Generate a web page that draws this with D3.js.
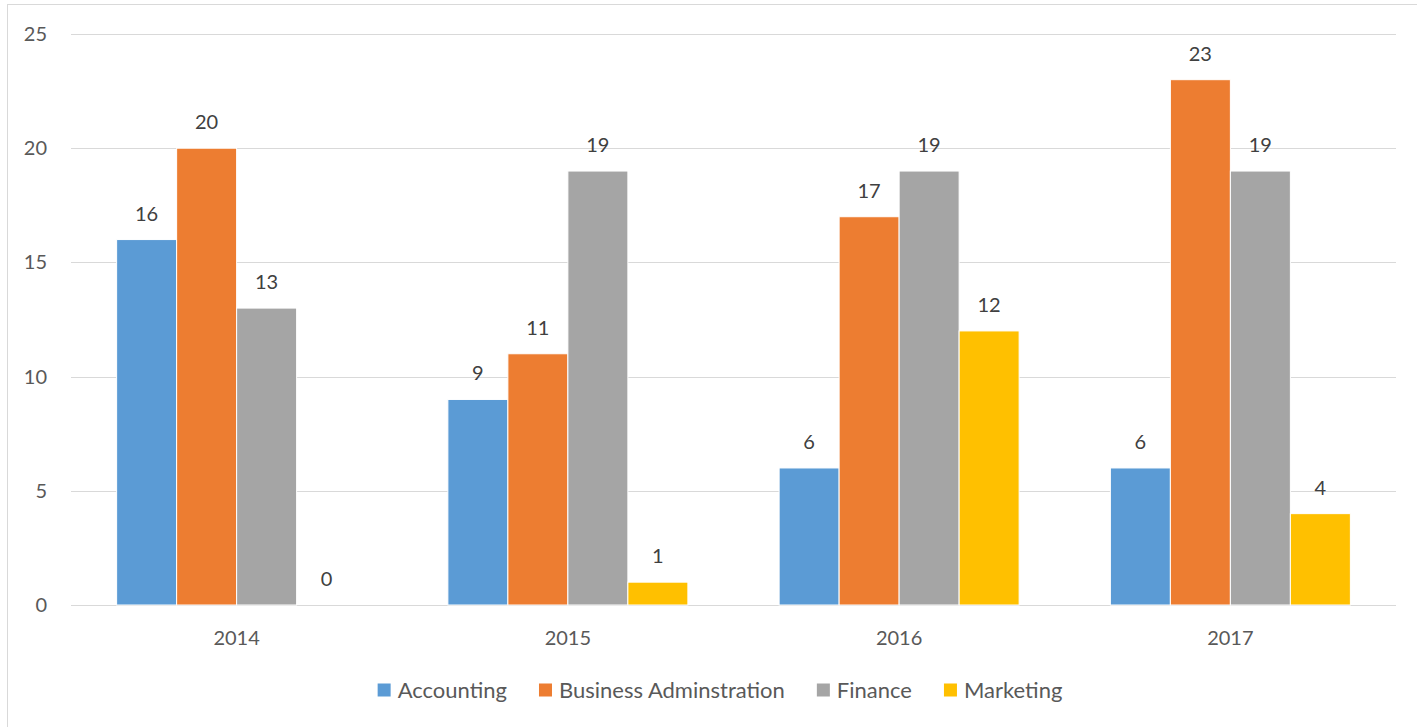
<!DOCTYPE html>
<html>
<head>
<meta charset="utf-8">
<script src="https://cdn.jsdelivr.net/npm/d3@7/dist/d3.min.js"></script>
<style>
  html, body { margin: 0; padding: 0; background: #fff; }
  svg { display: block; }
  text { font-family: Lato, "Open Sans", sans-serif; }
</style>
</head>
<body>
<svg id="chart" width="1417" height="727"></svg>
<script>
const years = ["2014", "2015", "2016", "2017"];
const seriesNames = ["Accounting", "Business Adminstration", "Finance", "Marketing"];
const accounting = [16, 9, 6, 6];
const businessAdmin = [20, 11, 17, 23];
const finance = [13, 19, 19, 19];
const marketing = [0, 1, 12, 4];
const yTicks = [0, 5, 10, 15, 20, 25];
const colors = ["#5B9BD5", "#ED7D31", "#A5A5A5", "#FFC000"];

const seriesValues = [accounting, businessAdmin, finance, marketing];

const svg = d3.select("#chart");
const W = 1417, H = 727;
const plot = { left: 71, right: 1396, top: 34, bottom: 605 };

// chart border
svg.append("rect")
  .attr("x", 7.5).attr("y", 4.5)
  .attr("width", W + 10).attr("height", H + 10)
  .attr("fill", "#fff").attr("stroke", "#d9d9d9").attr("stroke-width", 1);

const y = d3.scaleLinear().domain([0, 25]).range([plot.bottom, plot.top]);
const x0 = d3.scaleBand().domain(years).range([plot.left, plot.right]).paddingInner(0).paddingOuter(0);
const groupW = 240;
const x1 = d3.scaleBand().domain(seriesNames).range([0, groupW]).padding(0);

// gridlines
svg.append("g").selectAll("line").data(yTicks).join("line")
  .attr("x1", plot.left).attr("x2", plot.right)
  .attr("y1", d => Math.round(y(d)) + 0.5).attr("y2", d => Math.round(y(d)) + 0.5)
  .attr("stroke", "#d9d9d9").attr("stroke-width", 1);

// y tick labels
svg.append("g").selectAll("text").data(yTicks).join("text")
  .attr("x", 47).attr("y", d => y(d)).attr("dy", "0.35em")
  .attr("text-anchor", "end")
  .attr("font-size", 20).attr("fill", "#595959")
  .text(d => d);

// bars
const groups = svg.append("g").selectAll("g").data(years).join("g")
  .attr("transform", d => `translate(${x0(d) + (x0.bandwidth() - groupW) / 2},0)`);

groups.each(function(yr, i) {
  const g = d3.select(this);
  seriesNames.forEach((s, j) => {
    const v = seriesValues[j][i];
    if (v > 0) {
      g.append("rect")
        .attr("x", x1(s)).attr("y", y(v))
        .attr("width", x1.bandwidth()).attr("height", y(0) - y(v))
        .attr("fill", colors[j])
        .attr("stroke", "#fff").attr("stroke-width", 1);
    }
    g.append("text")
      .attr("x", x1(s) + x1.bandwidth() / 2)
      .attr("y", y(v) - 26).attr("dy", "0.35em")
      .attr("text-anchor", "middle")
      .attr("font-size", 20).attr("fill", "#404040")
      .text(v);
  });
});

// x axis labels
svg.append("g").selectAll("text").data(years).join("text")
  .attr("x", d => x0(d) + x0.bandwidth() / 2)
  .attr("y", 638).attr("dy", "0.35em")
  .attr("text-anchor", "middle")
  .attr("font-size", 20).attr("fill", "#595959")
  .text(d => d);

// legend
const legend = svg.append("g");
const items = legend.selectAll("g").data(seriesNames).join("g");
items.append("rect").attr("width", 13).attr("height", 13).attr("y", -6.5)
  .attr("fill", (d, i) => colors[i]);
items.append("text").attr("x", 20).attr("dy", "0.35em")
  .attr("font-size", 22).attr("fill", "#595959").text(d => d);
const widths = [];
items.each(function() {
  const w = 20 + d3.select(this).select("text").node().getComputedTextLength();
  widths.push(w);
});
const gap = 32;
const total = d3.sum(widths) + gap * (widths.length - 1);
let start = 720 - total / 2;
items.attr("transform", (d, i) => {
  const t = `translate(${start},690)`;
  start += widths[i] + gap;
  return t;
});
</script>
</body>
</html>
